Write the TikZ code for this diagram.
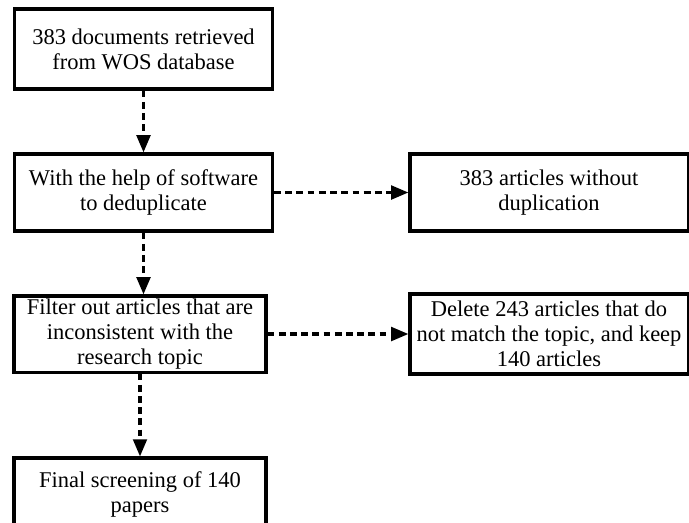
\documentclass[tikz,border=0pt]{standalone}
\usepackage{fontspec}
\setmainfont{Liberation Serif}
\usetikzlibrary{arrows.meta}
\tikzset{
  every picture/.style={line width=2pt},
  stage/.style={draw, line width=2.2pt, align=center, inner sep=2pt, font=\fontsize{16}{17.8}\selectfont},
  flow/.style={-{Triangle[length=4.3mm,width=3.4mm]}, line width=2.2pt, dash pattern=on 1.7mm off 1.1mm},
}
\begin{document}
\begin{tikzpicture}[x=0.025cm, y=-0.025cm,
  lbox/.style={stage, minimum width=6.45cm},
  rbox/.style={stage, minimum width=6.95cm}]
  \useasboundingbox (0,0) rectangle (689,522);
  \node[lbox, minimum height=2cm] (retr) at (143.5,49) {383 documents retrieved\\from WOS database};
  \node[lbox, minimum height=1.925cm] (dedup) at (143.5,192.5) {With the help of software\\to deduplicate};
  \node[rbox, minimum height=1.925cm] (nodup) at (549,192.5) {383 articles without\\duplication};
  \node[lbox, minimum height=1.85cm, minimum width=6.3cm] (filt) at (140,334) {Filter out articles that are\\inconsistent with the\\research topic};
  \node[rbox, minimum height=2cm] (keep) at (549,334) {Delete 243 articles that do\\not match the topic, and keep\\140 articles};
  \node[lbox, minimum height=1.8cm, minimum width=6.3cm] (final) at (140,494) {Final screening of 140\\papers};
  \draw[flow] (retr) -- (dedup);
  \draw[flow] (dedup) -- (nodup);
  \draw[flow] (dedup.south) -- (dedup.south |- filt.north);
  \draw[flow] (filt) -- (keep);
  \draw[flow] (filt) -- (final);
\end{tikzpicture}
\end{document}
